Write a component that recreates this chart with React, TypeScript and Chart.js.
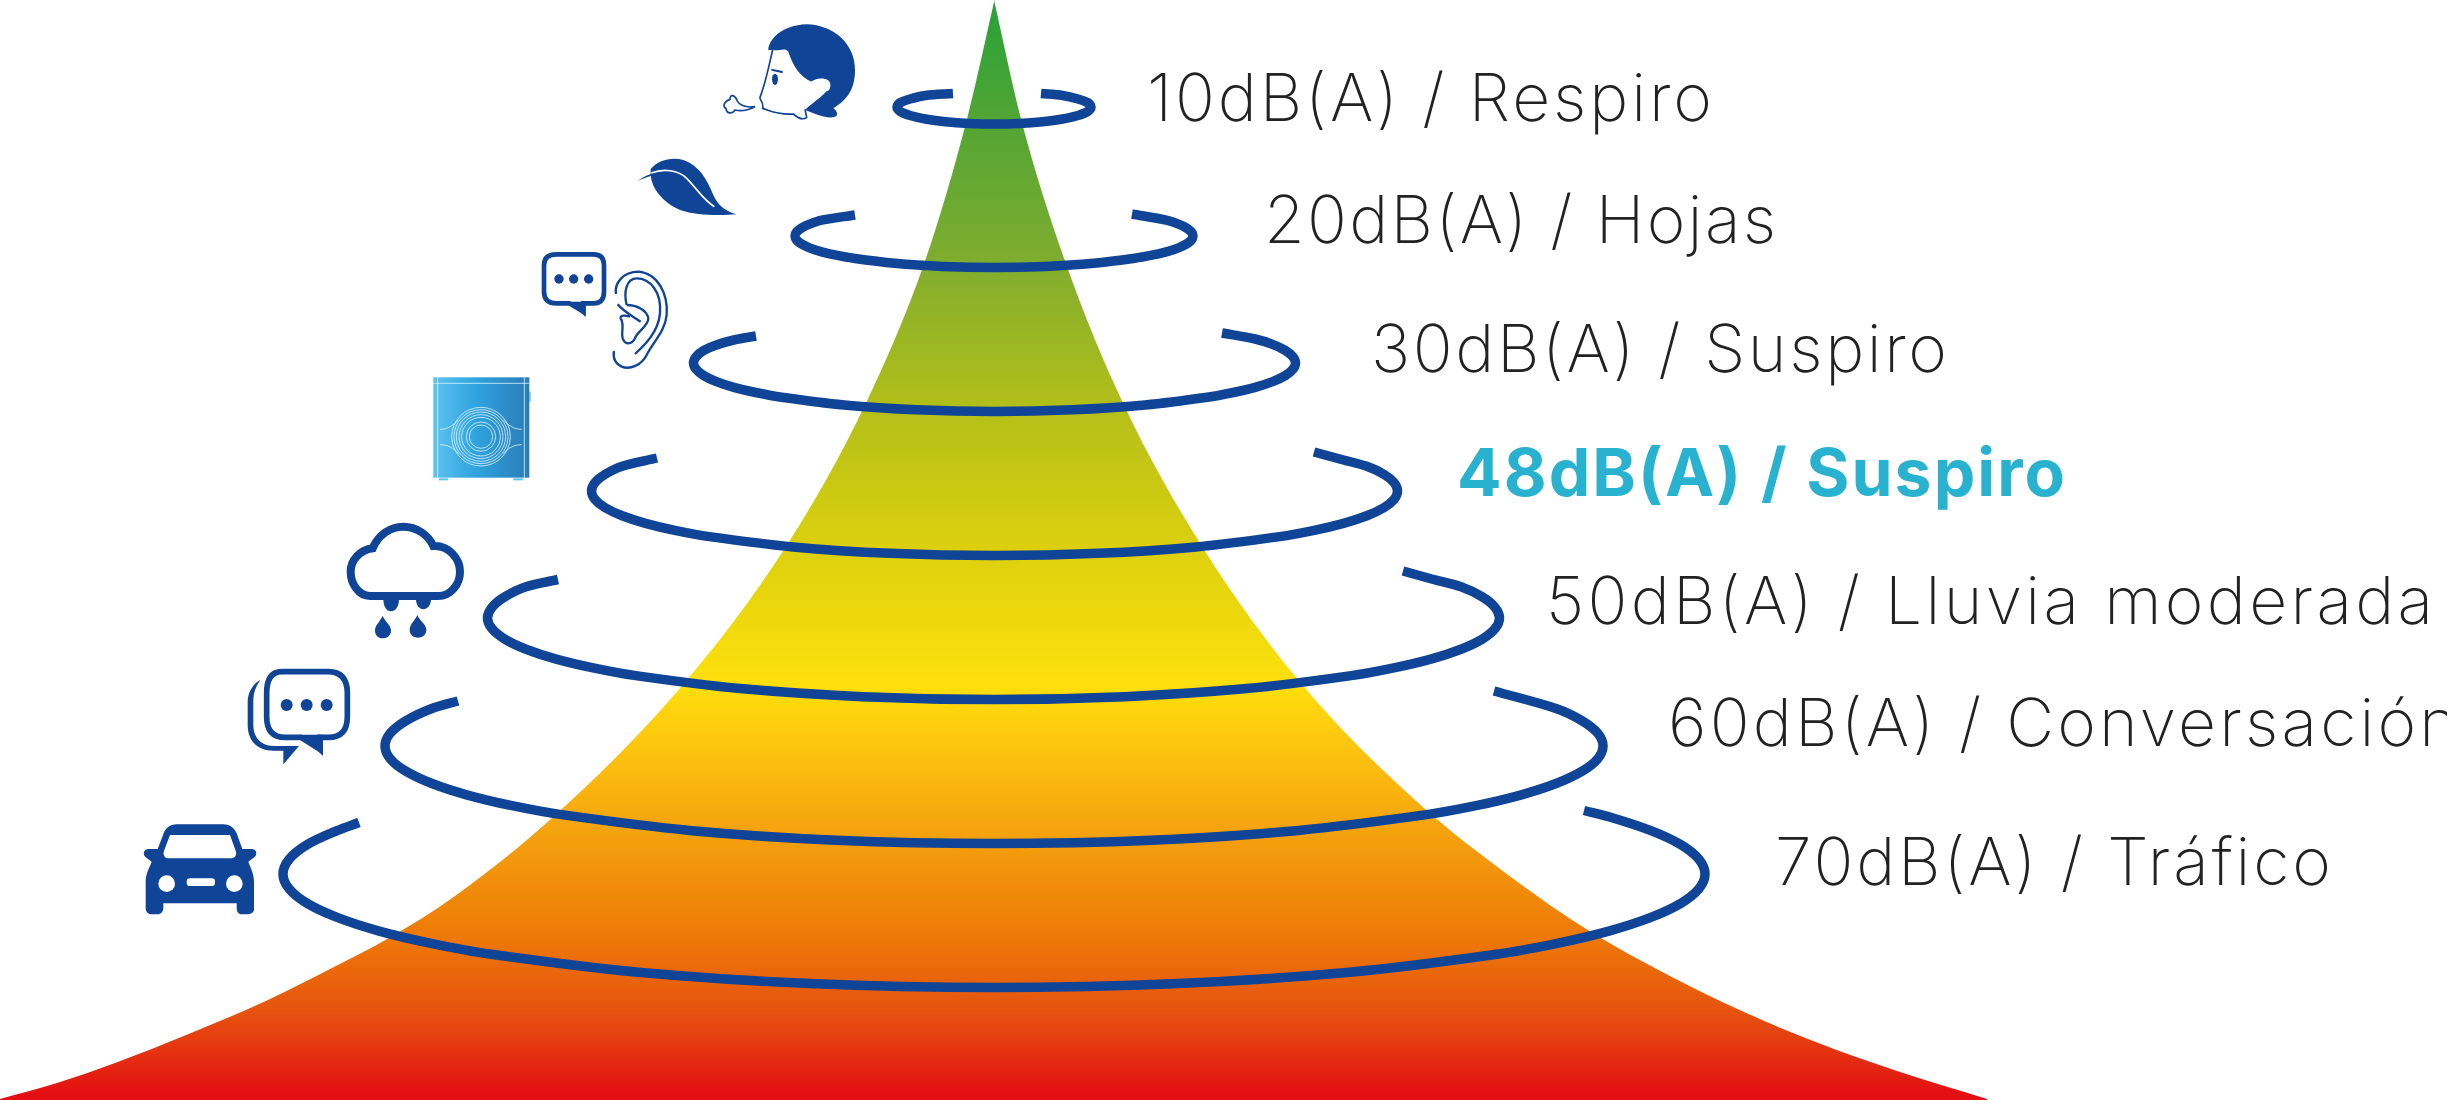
// App.tsx
import { useEffect, useRef } from "react";
import { Chart, registerables } from "chart.js";

Chart.register(...registerables);

const WIDTH = 2447;
const HEIGHT = 1100;

// Flanks of the cone
const coneLeft = [
  [0, 1099], [57, 1083], [115, 1063], [191, 1033], [268, 1000], [330, 969], [389, 938], [455, 896], [552, 818],
  [681, 687], [785, 548], [866, 403], [925, 261], [967, 119], [994.5, 0],
];
const coneRight = [
  [994, 0], [1021, 119], [1065, 261], [1123, 403], [1203, 548], [1300, 682], [1415, 800], [1515, 880],
  [1591, 932], [1668, 975], [1744, 1012], [1821, 1044], [1897, 1071], [1987, 1099],
];

// Rings, from the left cut round the front to the right cut
const ring10 = [
  [953, 93.5], [925.4, 95.5], [910, 99], [900.3, 102.6], [897.8, 104.8], [897, 107], [897.8, 109.2], [900.3, 111.4],
  [904.4, 113.5], [910, 115.5], [925.4, 119], [945.5, 121.7], [968.9, 123.4], [994, 124], [1019.1, 123.4],
  [1042.5, 121.7], [1062.6, 119], [1078, 115.5], [1083.6, 113.5], [1087.7, 111.4], [1090.2, 109.2], [1091, 107],
  [1090.2, 104.8], [1087.7, 102.6], [1078, 99], [1062.6, 95.5], [1041, 93.5],
];
const ring20 = [
  [855, 215], [821.7, 220.2], [810.1, 223.9], [801.8, 227.8], [796.7, 231.9], [795, 236], [796.7, 240.1],
  [801.8, 244.2], [810.1, 248.1], [821.7, 251.8], [836.1, 255.2], [853.3, 258.3], [894.5, 263.3], [942.5, 266.4],
  [994, 267.5], [1045.5, 266.4], [1093.5, 263.3], [1134.7, 258.3], [1151.9, 255.2], [1166.3, 251.8], [1177.9, 248.1],
  [1186.2, 244.2], [1191.3, 240.1], [1193, 236], [1191.3, 231.9], [1186.2, 227.8], [1177.9, 223.9], [1166.3, 220.2],
  [1132, 214],
];
const ring30 = [
  [756, 336], [733.8, 340], [716.4, 345], [703.8, 350.4], [696.1, 356.7], [693.5, 363], [696.1, 369.3], [703.8, 375.6],
  [716.4, 381.6], [733.8, 387.3], [755.7, 392.5], [781.7, 397.3], [844, 405], [916.6, 409.8], [994.5, 411.5],
  [1072.4, 409.8], [1145, 405], [1207.3, 397.3], [1233.3, 392.5], [1255.2, 387.3], [1272.6, 381.6], [1285.2, 375.6],
  [1292.9, 369.3], [1295.5, 363], [1292.9, 356.7], [1285.2, 350.4], [1272.6, 344.4], [1255.2, 339], [1222, 333],
];
const ring48 = [
  [657, 458], [622.2, 466.3], [605.2, 474.3], [595, 482.6], [591.5, 491], [595, 499.4], [605.2, 507.7], [622.2, 515.7],
  [645.5, 523.3], [674.8, 530.3], [709.5, 536.6], [793, 546.9], [890.2, 553.3], [994.5, 555.5], [1098.8, 553.3],
  [1196, 546.9], [1279.5, 536.6], [1314.2, 530.3], [1343.5, 523.3], [1366.8, 515.7], [1383.8, 507.7], [1394, 499.4],
  [1397.5, 491], [1394, 482.6], [1383.8, 474.3], [1366.8, 466.3], [1343.5, 460], [1314, 452],
];
const ring50 = [
  [558, 579.5], [526, 586.8], [504.7, 596.9], [491.9, 607.4], [487.5, 618], [491.9, 628.6], [504.7, 639.1], [526, 649.2],
  [555.3, 658.8], [592, 667.6], [635.7, 675.6], [740.5, 688.6], [862.5, 696.7], [993.5, 699.5], [1124.5, 696.7],
  [1246.5, 688.6], [1351.3, 675.6], [1395, 667.6], [1431.7, 658.8], [1461, 649.2], [1482.3, 639.1], [1495.1, 628.6],
  [1499.5, 618], [1495.1, 607.4], [1482.3, 596.9], [1461, 586.8], [1431.7, 579], [1403, 571],
];
const ring60 = [
  [458, 701], [431.3, 708.7], [405.8, 720.8], [390.2, 733.3], [385, 746], [390.2, 758.7], [405.8, 771.2], [431.3, 783.3],
  [466.6, 794.8], [510.8, 805.4], [563.4, 814.9], [689.5, 830.4], [836.4, 840.2], [994, 843.5], [1151.6, 840.2],
  [1298.5, 830.4], [1424.6, 814.9], [1477.2, 805.4], [1521.4, 794.8], [1556.7, 783.3], [1582.2, 771.2], [1597.8, 758.7],
  [1603, 746], [1597.8, 733.3], [1582.2, 720.8], [1556.7, 708.7], [1494, 691],
];
const ring70 = [
  [359, 822.5], [337.1, 830.6], [307.2, 844.6], [289.1, 859.2], [283, 874], [289.1, 888.8], [307.2, 903.4], [337.1, 917.4],
  [378.3, 930.8], [429.9, 943.1], [491.3, 954.3], [638.5, 972.3], [810, 983.6], [994, 987.5], [1178, 983.6],
  [1349.5, 972.3], [1496.7, 954.3], [1558.1, 943.1], [1609.7, 930.8], [1650.9, 917.4], [1680.8, 903.4], [1698.9, 888.8],
  [1705, 874], [1698.9, 859.2], [1680.8, 844.6], [1650.9, 830.6], [1609.7, 817], [1584, 810.5],
];
const rings = [ring10, ring20, ring30, ring48, ring50, ring60, ring70];

const labels = [
  "10dB(A) / Respiro",
  "20dB(A) / Hojas",
  "30dB(A) / Suspiro",
  "48dB(A) / Suspiro",
  "50dB(A) / Lluvia moderada",
  "60dB(A) / Conversación",
  "70dB(A) / Tráfico",
];
const labelX = [1147, 1264, 1371, 1457, 1546, 1668, 1775];
const labelY = [121, 243, 372, 496, 624, 746, 885];
const labelWidth = [565, 512, 576, 608, 887, 790, 556];
const highlighted = 3;

const gradientStops: [number, string][] = [
  [0.02, "#2ea238"],
  [0.11, "#52a535"],
  [0.24, "#80ad2e"],
  [0.37, "#b3bf19"],
  [0.5, "#ddd00e"],
  [0.62, "#fde00c"],
  [0.67, "#fec90f"],
  [0.75, "#f5a50f"],
  [0.85, "#ee7a08"],
  [0.92, "#e6530f"],
  [0.995, "#e30f13"],
];

const BLUE = "#0f4496";

const textPlugin = {
  id: "levelLabels",
  afterDatasetsDraw(chart: Chart) {
    const { ctx, scales } = chart;
    ctx.save();
    ctx.textBaseline = "alphabetic";
    labels.forEach((text, i) => {
      const isHighlighted = i === highlighted;
      ctx.font = `${isHighlighted ? 700 : 250} 66px Inter`;
      (ctx as any).letterSpacing = "0px";
      // stretch the tracking so each label spans what it spans in the picture
      const spacing = (labelWidth[i] - ctx.measureText(text).width) / (text.length - 1);
      (ctx as any).letterSpacing = `${spacing}px`;
      ctx.fillStyle = isHighlighted ? "#29b2cf" : "#222222";
      ctx.fillText(text, scales.x.getPixelForValue(labelX[i]), scales.y.getPixelForValue(labelY[i]));
    });
    ctx.restore();
  },
};

// Icons beside the rings, sketched at 3x
const Icon = ({ x, y, children }: { x: number; y: number; children: React.ReactNode }) => (
  <g transform={`translate(${x} ${y}) scale(${1 / 3})`}>{children}</g>
);

const Icons = () => (
  <svg
    width={WIDTH}
    height={HEIGHT}
    style={{ position: "absolute", left: 0, top: 0, pointerEvents: "none" }}
  >
    <defs>
      <linearGradient id="device" x1="0" x2="1" y1="0" y2="0">
        <stop offset="0" stopColor="#5cc3ef" />
        <stop offset="0.45" stopColor="#2fa2dd" />
        <stop offset="1" stopColor="#2a7cb8" />
      </linearGradient>
    </defs>

    {/* head */}
    <Icon x={710} y={10}>
      <path
        fill={BLUE}
        d="M175 120 C175 90 215 45 290 43 C370 45 435 100 435 180 C435 240 410 270 370 295 C385 305 385 320 370 322 C340 325 300 305 285 300 C310 275 355 250 360 225 C360 205 335 200 305 215 C270 200 250 170 235 125 C225 110 205 125 190 120 Z"
      />
      <path
        fill="none"
        stroke={BLUE}
        strokeWidth={5}
        d="M188 120 C180 150 170 210 150 262 C148 270 162 275 158 295 C175 300 200 315 250 312 C265 325 280 330 290 322 L285 298"
      />
      <path fill="none" stroke="#fff" strokeWidth={5} d="M305 217 C320 205 345 205 355 215 C362 225 358 235 352 242" />
      <path fill={BLUE} d="M183 176 L218 183 L218 190 L185 182 Z" />
      <ellipse cx={195} cy={208} rx={9} ry={17} fill={BLUE} />
      <path
        fill="none"
        stroke={BLUE}
        strokeWidth={5}
        d="M135 290 C100 295 85 280 82 273 C75 255 60 250 60 268 C45 272 35 290 48 295 C50 315 70 310 75 300 C95 305 115 300 135 290 Z"
      />
    </Icon>

    {/* leaf, speech bubble and ear */}
    <Icon x={530} y={145}>
      <path
        fill={BLUE}
        d="M362 72 C385 45 425 35 460 45 C505 60 530 100 550 150 C565 185 590 200 620 208 C570 212 500 212 450 195 C395 170 365 130 362 90 Z"
      />
      <path fill={BLUE} d="M322 108 C340 95 360 86 385 82 L362 93 C350 96 335 102 322 108 Z" />
      <path
        fill="none"
        stroke="#fff"
        strokeWidth={5}
        d="M364 84 C400 70 445 75 470 100 C500 130 520 165 553 185"
      />
      <path
        fill="none"
        stroke={BLUE}
        strokeWidth={14}
        d="M80 328 H190 Q222 328 222 360 V440 Q222 475 190 475 H160 V500 L118 475 H80 Q42 475 42 440 V360 Q42 328 80 328 Z"
      />
      <path fill={BLUE} d="M118 470 H167 V516 Z" />
      <circle cx={87} cy={402} r={14} fill={BLUE} />
      <circle cx={131} cy={402} r={14} fill={BLUE} />
      <circle cx={176} cy={402} r={14} fill={BLUE} />
      <g fill="none" stroke={BLUE} strokeWidth={7}>
        <path d="M258 447 C252 415 280 380 325 380 C385 385 415 450 410 510 C405 560 370 590 350 630 C335 660 300 675 275 665 C255 655 248 640 252 618" />
        <path d="M315 627 C345 600 385 560 390 505 C395 440 360 400 320 400 C290 400 280 440 290 480" />
        <path d="M263 478 C280 500 310 515 332 530" />
        <path d="M290 480 C320 480 350 495 355 520 C355 545 320 560 315 580 C305 600 285 600 278 580 C272 560 285 540 272 520 C270 510 285 510 300 515" />
      </g>
    </Icon>

    {/* device */}
    <Icon x={425} y={370}>
      <rect x={313} y={65} width={4} height={30} fill="#5cc3ef" />
      <rect x={42} y={325} width={28} height={6} fill="#5cc3ef" />
      <rect x={265} y={325} width={30} height={6} fill="#5cc3ef" />
      <rect x={25} y={22} width={288} height={301} fill="url(#device)" />
      <g fill="none" stroke="#d6f0fb" strokeWidth={2.5}>
        <path d="M25 40 H313 M38 22 V323 M298 22 V323" />
        <circle cx={168} cy={200} r={35} />
        <circle cx={168} cy={200} r={44} />
        <circle cx={168} cy={200} r={58} />
        <circle cx={168} cy={200} r={66} />
        <circle cx={168} cy={200} r={74} />
        <circle cx={168} cy={200} r={81} />
        <circle cx={168} cy={200} r={88} />
        <path d="M45 178 C70 178 85 165 100 150 M290 178 C265 178 250 165 235 150 M45 224 C70 224 85 235 100 250 M290 224 C265 224 250 235 235 250" />
      </g>
    </Icon>

    {/* rain cloud */}
    <Icon x={330} y={510}>
      <path
        fill="none"
        stroke={BLUE}
        strokeWidth={24}
        d="M120 258 C85 258 62 220 62 185 C62 150 90 120 128 115 C145 75 180 50 220 50 C260 50 295 75 310 108 C355 105 390 145 390 185 C390 225 360 258 325 258 Z"
      />
      <path fill={BLUE} d="M160 268 C160 290 170 304 183 304 C196 304 207 290 207 268 Z" />
      <path fill={BLUE} d="M258 268 C258 285 268 298 280 298 C292 298 303 285 303 268 Z" />
      <path fill={BLUE} d="M158 317 C150 335 135 345 135 362 C135 375 145 385 158 385 C172 385 183 375 183 362 C183 345 165 335 158 317 Z" />
      <path fill={BLUE} d="M262 315 C254 333 239 343 239 360 C239 373 249 383 264 383 C278 383 289 373 289 360 C289 343 269 333 262 315 Z" />
    </Icon>

    {/* conversation */}
    <Icon x={235} y={660}>
      <path
        fill="none"
        stroke={BLUE}
        strokeWidth={17}
        d="M140 35 H280 Q337 35 337 100 V170 Q337 232 280 232 H255 V268 L198 232 H150 Q95 232 95 170 V100 Q95 35 140 35 Z"
      />
      <path fill={BLUE} d="M198 224 H264 V288 Z" />
      <circle cx={155} cy={135} r={18} fill={BLUE} />
      <circle cx={215} cy={135} r={18} fill={BLUE} />
      <circle cx={275} cy={135} r={18} fill={BLUE} />
      <path
        fill={BLUE}
        d="M76 60 C48 75 38 105 38 125 V195 C38 245 70 272 115 272 H145 V313 L192 258 H120 C80 258 55 235 55 195 V120 C55 100 62 80 76 60 Z"
      />
    </Icon>

    {/* car */}
    <Icon x={135} y={815}>
      <path
        fill={BLUE}
        fillRule="evenodd"
        d="M125 28 H265 C285 28 300 40 306 58 L322 102 H350 C365 102 368 118 358 127 L340 140 C345 155 357 175 357 200 V283 C357 293 348 298 335 298 H320 C310 298 305 290 305 280 V265 H85 V280 C85 290 78 298 68 298 H50 C38 298 32 290 32 280 V200 C32 175 45 155 50 140 L32 127 C22 118 25 102 42 102 H68 L85 58 C90 40 105 28 125 28 Z M105 60 L285 60 L303 110 C305 120 300 130 290 130 H100 C90 130 84 120 86 110 Z"
      />
      <circle cx={95} cy={206} r={25} fill="#fff" />
      <circle cx={298} cy={206} r={25} fill="#fff" />
      <rect x={155} y={190} width={85} height={23} rx={10} fill="#fff" />
    </Icon>
  </svg>
);

export default function App() {
  const canvasRef = useRef<HTMLCanvasElement | null>(null);

  useEffect(() => {
    if (!canvasRef.current) return;

    const coneFill = (context: any) => {
      const { ctx, chartArea } = context.chart;
      if (!chartArea) return "#e6530f";
      const gradient = ctx.createLinearGradient(0, chartArea.top, 0, chartArea.bottom);
      gradientStops.forEach(([offset, color]) => gradient.addColorStop(offset, color));
      return gradient;
    };

    const chart = new Chart(canvasRef.current, {
      type: "line",
      data: {
        datasets: [
          ...rings.map((points) => ({
            data: points as any,
            borderColor: BLUE,
            borderWidth: 9.5,
            tension: 0.34,
            fill: false,
            pointRadius: 0,
            order: 1,
          })),
          ...[coneLeft, coneRight].map((points) => ({
            data: points as any,
            borderWidth: 0,
            backgroundColor: coneFill,
            cubicInterpolationMode: "monotone" as const,
            fill: { value: HEIGHT },
            pointRadius: 0,
            order: 2,
          })),
        ],
      },
      options: {
        animation: false,
        responsive: false,
        devicePixelRatio: 1,
        layout: { padding: 0 },
        plugins: { legend: { display: false }, tooltip: { enabled: false } },
        scales: {
          x: { type: "linear", display: false, min: 0, max: WIDTH },
          y: { type: "linear", display: false, min: 0, max: HEIGHT, reverse: true },
        },
      },
      plugins: [textPlugin],
    });

    return () => chart.destroy();
  }, []);

  return (
    <div style={{ position: "absolute", left: 0, top: 0, width: WIDTH, height: HEIGHT, background: "#fff" }}>
      <canvas ref={canvasRef} width={WIDTH} height={HEIGHT} style={{ display: "block" }} />
      <Icons />
    </div>
  );
}
